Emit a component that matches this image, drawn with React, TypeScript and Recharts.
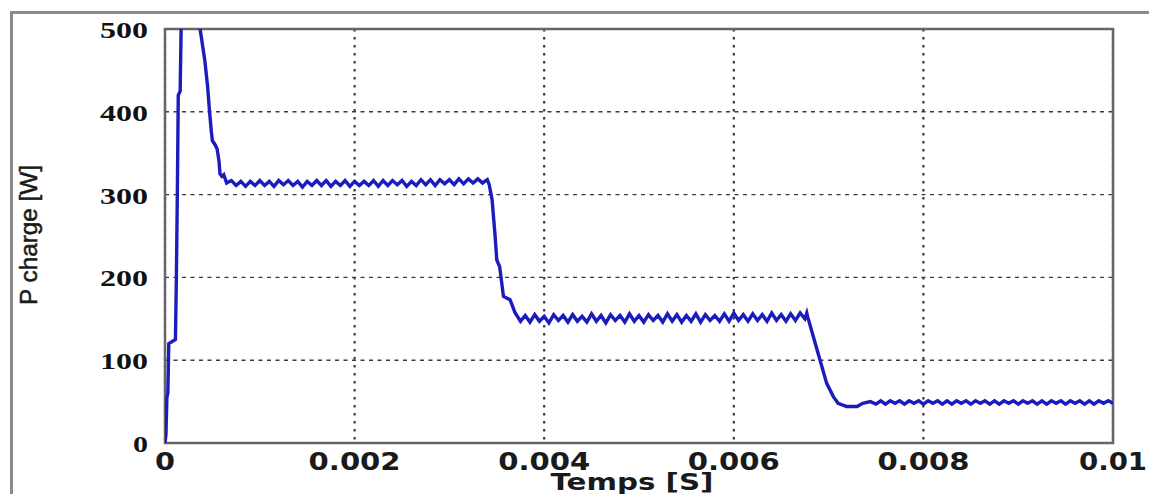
import { LineChart, Line, XAxis, YAxis, CartesianGrid, ReferenceArea } from "recharts";

// [time (s), power (W)]
const rise: [number, number][] = [
  [0, 0], [0.00001, 10], [0.00002, 55], [0.00003, 60], [0.00004, 120],
  [0.00011, 125], [0.00012, 200], [0.00013, 300], [0.00014, 420], [0.00016, 425],
  [0.00017, 500], [0.00019, 600], [0.0003, 620], [0.00035, 520], [0.00037, 500],
  [0.00039, 485], [0.00042, 462], [0.00045, 430], [0.00047, 400], [0.00049, 375],
  [0.0005, 365], [0.00053, 360], [0.00055, 355], [0.00057, 340], [0.00058, 325],
  [0.0006, 322], [0.00062, 324], [0.00065, 314],
];

const plateau1: [number, number][] = [
  [0.0007, 317], [0.00075, 311], [0.0008, 316], [0.00085, 310], [0.0009, 316],
  [0.00095, 311], [0.001, 317], [0.00105, 311], [0.0011, 316], [0.00115, 310],
  [0.0012, 317], [0.00125, 312], [0.0013, 317], [0.00135, 311], [0.0014, 316],
  [0.00145, 309], [0.0015, 316], [0.00155, 311], [0.0016, 317], [0.00165, 311],
  [0.0017, 317], [0.00175, 310], [0.0018, 316], [0.00185, 311], [0.0019, 317],
  [0.00195, 310], [0.002, 316], [0.00205, 311], [0.0021, 316], [0.00215, 311],
  [0.0022, 317], [0.00225, 310], [0.0023, 317], [0.00235, 311], [0.0024, 317],
  [0.00245, 312], [0.0025, 317], [0.00255, 310], [0.0026, 316], [0.00265, 311],
  [0.0027, 318], [0.00275, 312], [0.0028, 318], [0.00285, 311], [0.0029, 318],
  [0.00295, 313], [0.003, 318], [0.00305, 312], [0.0031, 319], [0.00315, 313],
  [0.0032, 319], [0.00325, 314], [0.0033, 319], [0.00335, 314], [0.0034, 318],
];

const drop1: [number, number][] = [
  [0.00342, 312], [0.00345, 294], [0.00348, 253], [0.0035, 221], [0.00353, 213],
  [0.00357, 177], [0.00364, 173], [0.00369, 158],
];

const plateau2: [number, number][] = [
  [0.00375, 147], [0.0038, 154], [0.00385, 146], [0.0039, 155], [0.00395, 147],
  [0.004, 153], [0.00405, 145], [0.0041, 155], [0.00415, 148], [0.0042, 154],
  [0.00425, 146], [0.0043, 155], [0.00435, 147], [0.0044, 153], [0.00445, 146],
  [0.0045, 156], [0.00455, 147], [0.0046, 154], [0.00465, 145], [0.0047, 155],
  [0.00475, 148], [0.0048, 154], [0.00485, 146], [0.0049, 156], [0.00495, 147],
  [0.005, 154], [0.00505, 146], [0.0051, 155], [0.00515, 148], [0.0052, 154],
  [0.00525, 146], [0.0053, 156], [0.00535, 147], [0.0054, 155], [0.00545, 146],
  [0.0055, 154], [0.00555, 147], [0.0056, 156], [0.00565, 146], [0.0057, 155],
  [0.00575, 148], [0.0058, 154], [0.00585, 147], [0.0059, 156], [0.00595, 147],
  [0.006, 157], [0.00605, 148], [0.0061, 155], [0.00615, 147], [0.0062, 156],
  [0.00625, 148], [0.0063, 155], [0.00635, 147], [0.0064, 157], [0.00645, 148],
  [0.0065, 155], [0.00655, 147], [0.0066, 156], [0.00665, 148], [0.0067, 157],
  [0.00675, 150], [0.00677, 157],
];

const drop2: [number, number][] = [
  [0.00678, 152], [0.00684, 128], [0.00691, 100], [0.00698, 72], [0.00705, 56],
  [0.0071, 48], [0.00719, 44], [0.0073, 44], [0.00736, 48], [0.00744, 50],
];

const plateau3: [number, number][] = [
  [0.0075, 47], [0.00755, 51], [0.0076, 47], [0.00765, 51], [0.0077, 48],
  [0.00775, 51], [0.0078, 47], [0.00785, 51], [0.0079, 48], [0.00795, 51],
  [0.008, 47], [0.00805, 51], [0.0081, 48], [0.00815, 51], [0.0082, 47],
  [0.00825, 51], [0.0083, 47], [0.00835, 51], [0.0084, 48], [0.00845, 51],
  [0.0085, 47], [0.00855, 51], [0.0086, 48], [0.00865, 51], [0.0087, 47],
  [0.00875, 51], [0.0088, 47], [0.00885, 51], [0.0089, 48], [0.00895, 51],
  [0.009, 47], [0.00905, 51], [0.0091, 48], [0.00915, 51], [0.0092, 47],
  [0.00925, 51], [0.0093, 47], [0.00935, 51], [0.0094, 48], [0.00945, 51],
  [0.0095, 47], [0.00955, 51], [0.0096, 48], [0.00965, 51], [0.0097, 47],
  [0.00975, 51], [0.0098, 47], [0.00985, 51], [0.0099, 48], [0.00995, 51],
  [0.01, 48],
];

const xTicks = [0, 0.002, 0.004, 0.006, 0.008, 0.01];
const yTicks = [0, 100, 200, 300, 400, 500];

const data = [...rise, ...plateau1, ...drop1, ...plateau2, ...drop2, ...plateau3].map(
  ([t, p]) => ({ t, p })
);

const XTick = ({ x, y, payload }: any) => {
  const label = String(payload.value);
  const len = label.length === 1 ? 20 : label.length === 4 ? 68 : 92;
  return (
    <text
      x={x}
      y={y + 19}
      textAnchor="middle"
      fontFamily="'DejaVu Sans', sans-serif"
      fontWeight="bold"
      fontSize={24}
      fill="#1a1a1a"
      textLength={len}
      lengthAdjust="spacingAndGlyphs"
    >
      {label}
    </text>
  );
};

const YTick = ({ y, payload }: any) => {
  const label = String(payload.value);
  const len = label.length === 1 ? 15 : 48;
  return (
    <text
      x={148}
      y={y + 9}
      textAnchor="end"
      fontFamily="'Liberation Serif', serif"
      fontWeight="bold"
      fontSize={23}
      fill="#111"
      textLength={len}
      lengthAdjust="spacingAndGlyphs"
    >
      {label}
    </text>
  );
};

export default function App() {
  return (
    <div style={{ position: "relative", width: 1157, height: 502, margin: -8, overflow: "hidden", background: "#fff" }}>
      {/* figure frame */}
      <div
        style={{
          position: "absolute",
          left: 10,
          top: 11,
          width: 1160,
          height: 520,
          borderLeft: "3px solid #8a8a8a",
          borderTop: "3px solid #8a8a8a",
        }}
      />
      <div style={{ position: "absolute", left: 0, top: 0 }}>
        <LineChart width={1157} height={502} data={data} margin={{ top: 29, right: 44, bottom: 19, left: 105 }}>
          <CartesianGrid horizontal vertical={false} stroke="#3a3a3a" strokeDasharray="4 4.5" strokeWidth={1.4} />
          <CartesianGrid horizontal={false} vertical stroke="#3a3a3a" strokeDasharray="2.5 5.5" strokeWidth={2.2} />
          <XAxis
            type="number"
            dataKey="t"
            domain={[0, 0.01]}
            ticks={xTicks}
            allowDataOverflow
            axisLine={false}
            tickLine={false}
            height={40}
            tick={<XTick />}
          />
          <YAxis
            type="number"
            domain={[0, 500]}
            ticks={yTicks}
            allowDataOverflow
            axisLine={false}
            tickLine={false}
            width={60}
            tick={<YTick />}
          />
          <ReferenceArea x1={0} x2={0.01} y1={0} y2={500} fill="none" stroke="#666" strokeWidth={2.5} />
          <Line
            type="linear"
            dataKey="p"
            stroke="#1c1cbe"
            strokeWidth={3.4}
            dot={false}
            isAnimationActive={false}
          />
        </LineChart>
      </div>
      <svg width={1157} height={502} style={{ position: "absolute", left: 0, top: 0, pointerEvents: "none" }}>
        <text
          x={632}
          y={490}
          textAnchor="middle"
          fontFamily="'DejaVu Sans', sans-serif"
          fontWeight="bold"
          fontSize={23}
          fill="#1a1a1a"
          textLength={163}
          lengthAdjust="spacingAndGlyphs"
        >
          Temps [S]
        </text>
        <text
          x={0}
          y={0}
          transform="translate(37 235) rotate(-90)"
          textAnchor="middle"
          fontFamily="'Liberation Sans', Arial, sans-serif"
          fontSize={23}
          fill="#1a1a1a"
          stroke="#1a1a1a"
          strokeWidth={0.5}
          textLength={140}
          lengthAdjust="spacingAndGlyphs"
        >
          P charge [W]
        </text>
      </svg>
    </div>
  );
}
